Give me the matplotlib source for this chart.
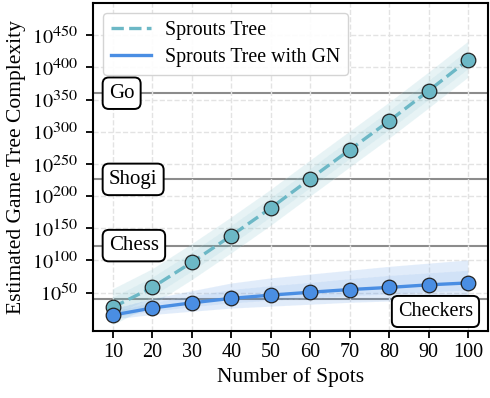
import matplotlib
matplotlib.use("Agg")
import matplotlib.pyplot as plt
from matplotlib.ticker import FuncFormatter
import matplotlib.transforms as mtransforms
import matplotlib._mathtext as mt

plt.rcParams['font.family'] = ['Liberation Serif', 'DejaVu Serif']
plt.rcParams['mathtext.fontset'] = 'stix'
plt.rcParams['font.size'] = 15
mt.SHRINK_FACTOR = 0.8  # exponentes un poco mas grandes, como en la figura original

# datos (exponentes de 10)
spots = [10, 20, 30, 40, 50, 60, 70, 80, 90, 100]
tree = [27, 58, 97, 138.5, 181.5, 227, 272, 317, 364, 412]
tree_hi = [55, 86, 125, 166.5, 209.5, 255, 300, 345, 392, 440]
tree_lo = [-1, 30, 69, 110.5, 153.5, 199, 244, 289, 336, 384]
tree_hi2 = [42, 73, 112, 153.5, 196.5, 242, 287, 332, 379, 427]
tree_lo2 = [12, 43, 82, 123.5, 166.5, 212, 257, 302, 349, 397]

gn = [15, 26, 34, 41, 46, 50.5, 54.7, 58, 62, 65]
gn_hi = [24, 40, 52, 64, 72, 78, 84, 90, 95, 100]
gn_lo = [8, 15, 20, 25, 28, 31, 34, 36, 38, 40]
gn_hi2 = [20, 34, 44, 54, 60, 65, 71, 76, 80, 84]
gn_lo2 = [11, 20, 27, 33, 37, 41, 44, 47, 50, 53]

juegos = ['Checkers', 'Chess', 'Shogi', 'Go']
complejidad = [40, 123, 226, 360]

c_tree = '#6cb8c6'
c_gn = '#4a8ee3'

fig = plt.figure(figsize=(4.9, 3.98), dpi=100)
ax = fig.add_axes([0.19, 0.168, 0.806, 0.824])

ax.grid(True, linestyle='--', color='#e3e3e3', linewidth=1.0, zorder=0)

for g, v in zip(juegos, complejidad):
    ax.axhline(v, color='#8c8c8c', linewidth=1.5, zorder=1)

ax.fill_between(spots, tree_lo, tree_hi, color=c_tree, alpha=0.16, edgecolor='white',
                linestyle='--', linewidth=0.8, zorder=2)
ax.fill_between(spots, tree_lo2, tree_hi2, color=c_tree, alpha=0.10, edgecolor='white',
                linestyle='--', linewidth=0.8, zorder=2)
ax.fill_between(spots, gn_lo, gn_hi, color=c_gn, alpha=0.16, edgecolor='white',
                linestyle='--', linewidth=0.8, zorder=2)
ax.fill_between(spots, gn_lo2, gn_hi2, color=c_gn, alpha=0.10, edgecolor='white',
                linestyle='--', linewidth=0.8, zorder=2)

ax.plot(spots, tree, '--', color=c_tree, linewidth=2.4, zorder=3, label='Sprouts Tree')
ax.plot(spots, tree, 'o', color=c_tree, markersize=10.5, markeredgecolor='#222222',
        markeredgewidth=0.9, zorder=4)
ax.plot(spots, gn, '-', color=c_gn, linewidth=2.4, zorder=3, label='Sprouts Tree with GN')
ax.plot(spots, gn, 'o', color=c_gn, markersize=10.5, markeredgecolor='#222222',
        markeredgewidth=0.9, zorder=4)

trans = mtransforms.blended_transform_factory(ax.transAxes, ax.transData)
caja = dict(boxstyle='round,pad=0.3,rounding_size=0.3', facecolor='white',
            edgecolor='black', linewidth=1.4)
for g, v in zip(juegos, complejidad):
    if g == 'Checkers':
        ax.annotate(g, xy=(0.962, v), xycoords=trans, xytext=(0, -9),
                    textcoords='offset points', ha='right', va='center', bbox=caja,
                    fontsize=14.5, zorder=6)
    else:
        ax.text(0.04, v, g, transform=trans, ha='left', va='center', bbox=caja,
                fontsize=15, zorder=6)

ax.set_xlim(5, 105)
ax.set_ylim(-10, 500)
ax.set_xticks(spots)
ax.set_yticks(range(50, 451, 50))
ax.yaxis.set_major_formatter(FuncFormatter(lambda v, p: '$10^{%d}$' % int(v)))
ax.tick_params(direction='out', length=5, width=1.3, labelsize=14.5)
ax.tick_params(axis='y', pad=6)
for s in ax.spines.values():
    s.set_linewidth(1.5)

ax.set_xlabel('Number of Spots', fontsize=15.5)
ax.set_ylabel('Estimated Game Tree Complexity', fontsize=15.5)

leg = ax.legend(loc='upper left', fancybox=True, framealpha=0.9, edgecolor='#d0d0d0',
                handlelength=2.0, handletextpad=0.7, labelspacing=0.4,
                borderaxespad=0.5, fontsize=14.3)
leg.set_zorder(7)

fig.savefig('out.png', dpi=100)
